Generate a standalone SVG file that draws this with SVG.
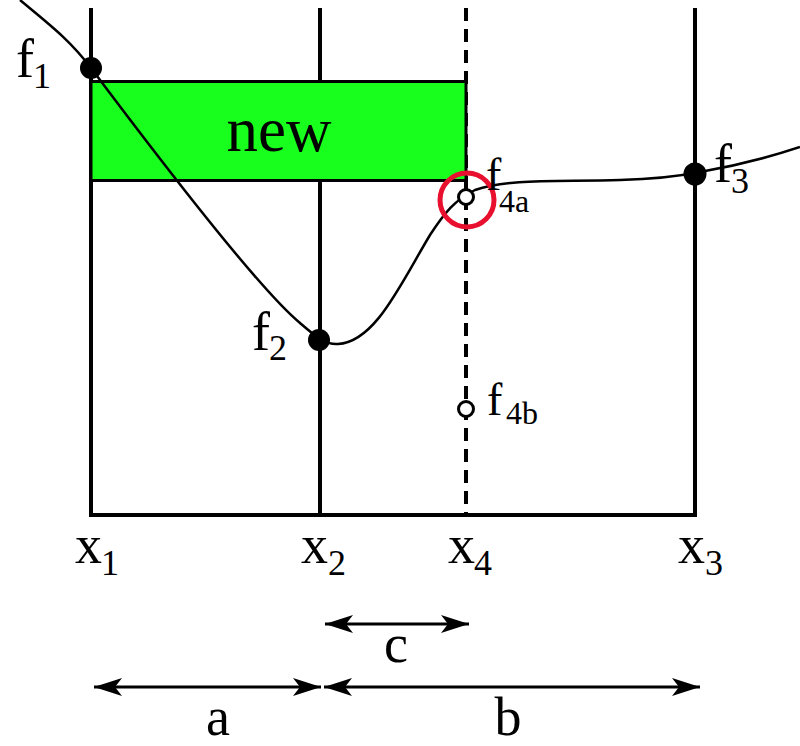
<svg xmlns="http://www.w3.org/2000/svg" width="800" height="746" viewBox="0 0 800 746">
<style>
.ln{stroke:#000;stroke-width:4;fill:none}
.dash{stroke:#000;stroke-width:4;fill:none;stroke-dasharray:13 8}
text{font-family:"Liberation Serif","Noto Serif","DejaVu Serif","FreeSerif","Nimbus Roman","Tinos","Times New Roman",serif;fill:#000}
.m{font-size:54px}
.s{font-size:36px}
.m4{font-size:46px}
.s4{font-size:32px}
.arr{stroke:#000;stroke-width:3;fill:none;marker-start:url(#ah);marker-end:url(#ah)}
</style>
<defs>
<marker id="ah" markerUnits="userSpaceOnUse" markerWidth="30" markerHeight="20" viewBox="-29 -10 30 20" refX="0" refY="0" orient="auto-start-reverse">
<path d="M0,0 L-28,-9 L-21,0 L-28,9 Z" fill="#000"/>
</marker>
</defs>
<rect width="800" height="746" fill="#fff"/>
<g id="axes">
<line class="ln" x1="91" y1="8" x2="91" y2="515"/>
<line class="ln" x1="320" y1="8" x2="320" y2="515"/>
<line class="ln" x1="695" y1="8" x2="695" y2="515"/>
<line class="dash" x1="466" y1="8" x2="466" y2="515"/>
<line class="ln" x1="89" y1="515" x2="697" y2="515"/>
</g>
<g id="new">
<rect x="91" y="81.5" width="375" height="99" fill="#18ff1e" stroke="#000" stroke-width="3"/>
<text x="279" y="151" font-size="63" text-anchor="middle">new</text>
</g>
<g id="curve">
<path d="M20,0 C50,25 70,40 91,68 C160,160 260,290 300,323 C315,336 325,345 338,344 C375,342 400,285 430,235 C445,212 455,200 475,190 C510,178 560,182 620,180 C660,179 680,176 700,172 C740,165 770,157 800,147" fill="none" stroke="#000" stroke-width="2.5"/>
</g>
<g id="f1"><circle cx="91" cy="68" r="11" fill="#000"/><text class="m" x="16" y="77">f</text><text class="s" x="33" y="88">1</text></g>
<g id="f2"><circle cx="319" cy="340" r="11" fill="#000"/><text class="m" x="252" y="350">f</text><text class="s" x="269" y="360">2</text></g>
<g id="f3"><circle cx="695" cy="174" r="11.5" fill="#000"/><text class="m" x="714" y="182">f</text><text class="s" x="731" y="193">3</text></g>
<g id="f4a"><circle cx="466" cy="197" r="7.5" fill="#fff" stroke="#000" stroke-width="3"/><circle cx="467" cy="200" r="27" fill="none" stroke="#e8102e" stroke-width="5"/><text class="m4" x="486" y="190">f</text><text class="s4" x="499" y="212">4a</text></g>
<g id="f4b"><circle cx="466" cy="409" r="7.5" fill="#fff" stroke="#000" stroke-width="3"/><text class="m4" x="487" y="415">f</text><text class="s4" x="506" y="424">4b</text></g>
<g id="xlabels">
<text class="m" x="75" y="563">x</text><text class="s" x="101" y="575">1</text>
<text class="m" x="301" y="563">x</text><text class="s" x="328" y="575">2</text>
<text class="m" x="448" y="563">x</text><text class="s" x="474" y="575">4</text>
<text class="m" x="678" y="563">x</text><text class="s" x="705" y="575">3</text>
</g>
<g id="connectors">
<line class="arr" x1="325" y1="624" x2="469" y2="624"/>
<line class="arr" x1="94" y1="687" x2="321" y2="687"/>
<line class="arr" x1="324" y1="687" x2="700" y2="687"/>
</g>
<g id="dimlabels">
<text class="m" x="396" y="662" text-anchor="middle">c</text>
<text class="m" x="218" y="735" text-anchor="middle">a</text>
<text class="m" x="508" y="735" text-anchor="middle">b</text>
</g>
</svg>
